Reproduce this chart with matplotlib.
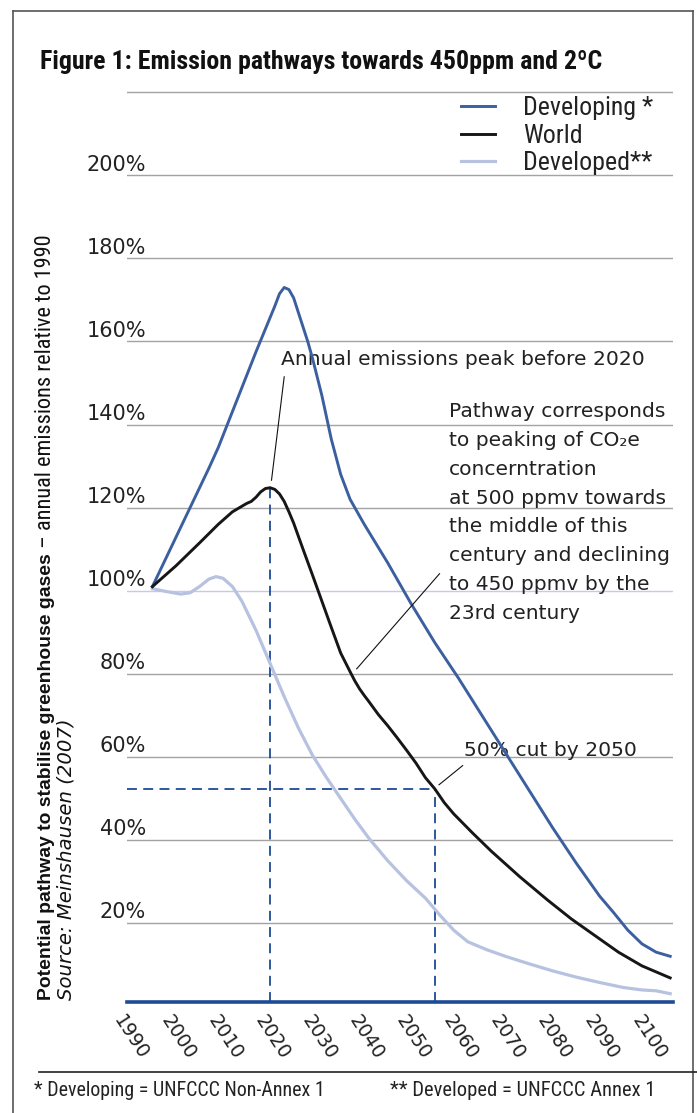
import numpy as np
import matplotlib.pyplot as plt
from matplotlib.lines import Line2D
from matplotlib import font_manager

# ---- data ----
developing_years = [1990, 1994, 1998, 2002, 2004, 2008, 2012, 2014, 2016, 2017, 2018, 2019, 2020,
                    2021, 2022, 2023, 2024, 2026, 2028, 2030, 2032, 2035, 2040, 2045, 2050, 2055,
                    2060, 2065, 2070, 2075, 2080, 2085, 2088, 2091, 2094, 2097, 2100]
developing_vals = [101, 110.5, 120, 129.5, 134.5, 146, 157.5, 163, 168.5, 171.5, 173, 172.5, 170.5,
                   167, 163.5, 160, 156, 147, 136.5, 128, 122, 116, 106.7, 96.8, 87.5, 79,
                   70, 61, 52, 43, 34.5, 26.5, 22.5, 18.3, 15, 13, 12]

world_years = [1990, 1995, 2000, 2004, 2007, 2010, 2011, 2012, 2013, 2014, 2015, 2016, 2017,
               2018, 2019, 2020, 2022, 2024, 2026, 2028, 2030, 2032, 2033, 2034, 2035, 2036,
               2038, 2040, 2042, 2044, 2046, 2048, 2050, 2052, 2054, 2058, 2062, 2068, 2074,
               2079, 2084, 2089, 2094, 2100]
world_vals = [101, 106, 111.5, 116, 119, 121, 121.5, 122.5, 123.8, 124.6, 124.8, 124.4, 123.3,
              121.5, 119, 116.3, 110, 103.8, 97.5, 91.2, 85, 80.5, 78.3, 76.4, 74.8, 73.3,
              70.2, 67.5, 64.6, 61.6, 58.5, 55, 52.3, 49, 46.3, 41.7, 37.3, 31.2, 25.5,
              21, 17, 13, 9.7, 6.8]

developed_years = [1990, 1993, 1996, 1998, 2000, 2002, 2003.5, 2005, 2007, 2009, 2012, 2015,
                   2018, 2021, 2024, 2027, 2030, 2033, 2036, 2040, 2044, 2048, 2051, 2054,
                   2057, 2061, 2065, 2070, 2075, 2080, 2085, 2090, 2094, 2097, 2100]
developed_vals = [100.5, 99.8, 99.2, 99.5, 101, 102.8, 103.4, 103, 101, 97.5, 90.5, 82.5,
                  74.5, 67, 60.4, 55, 50, 45, 40.4, 35, 30.2, 26, 22, 18.3,
                  15.5, 13.6, 12, 10.2, 8.5, 7, 5.7, 4.5, 3.9, 3.7, 3]

grid_vals = [20, 40, 60, 80, 100, 120, 140, 160, 180, 200, 220]
ytick_labels = ['20%', '40%', '60%', '80%', '100%', '120%', '140%', '160%', '180%', '200%']
xtick_years = [1990, 2000, 2010, 2020, 2030, 2040, 2050, 2060, 2070, 2080, 2090, 2100]
cut_year = 2050

# ---- style ----
C_DEV = '#3b5f9f'
C_WORLD = '#161616'
C_DVD = '#b7c2e1'
C_BASE = '#1d4b94'
C_TXT = '#222222'
ARIAL = ['Liberation Sans', 'DejaVu Sans']
WIDE = ['DejaVu Sans']

# pick a narrow face if one is installed
names = {f.name for f in font_manager.fontManager.ttflist}
NARROW = dict(family=ARIAL)
for cand in ['Liberation Sans Narrow', 'Roboto Condensed', 'Open Sans Condensed', 'Arial Narrow']:
    if cand in names:
        NARROW = dict(family=[cand, 'DejaVu Sans'])
        break

W, H = 697, 1113
fig = plt.figure(figsize=(W / 100, H / 100), dpi=100)
renderer = fig.canvas.get_renderer()


def fx(px):
    return px / W


def fy(py):
    return 1 - py / H


def fit(txt, width_px, **kw):
    # font size that makes txt about width_px wide
    t = fig.text(0, 0, txt, fontsize=20, **kw)
    w = t.get_window_extent(renderer).width
    t.remove()
    return 20 * width_px / w


ax = fig.add_axes([fx(127), fy(1002), fx(673) - fx(127), fy(91) - fy(1002)])
ax.set_xlim(1984.6, 2100.6)
ax.set_ylim(1.0, 220.3)

# gridlines
for v in grid_vals:
    col = '#c3cbe7' if v == 100 else '#a3a3a3'
    ax.axhline(v, color=col, lw=1.0, zorder=1)

# curves
l_dvd, = ax.plot(developed_years, developed_vals, color=C_DVD, lw=2.3, label='Developed**', zorder=3)
l_dev, = ax.plot(developing_years, developing_vals, color=C_DEV, lw=2.1, label='Developing *', zorder=4)
l_wld, = ax.plot(world_years, world_vals, color=C_WORLD, lw=2.1, label='World', zorder=5)

# dashed guides
peak_i = int(np.argmax(world_vals))
peak_year, peak_val = world_years[peak_i], world_vals[peak_i]
cut_val = float(np.interp(cut_year, world_years, world_vals))
dash = dict(color=C_BASE, lw=1.3, ls=(0, (5.5, 3.5)), zorder=2)
ax.plot([peak_year, peak_year], [1.0, peak_val], **dash)
ax.plot([cut_year, cut_year], [1.0, cut_val], **dash)
ax.plot([1984.6, cut_year], [cut_val, cut_val], **dash)

# axes styling
for s in ['top', 'right', 'left']:
    ax.spines[s].set_visible(False)
ax.spines['bottom'].set_color(C_BASE)
ax.spines['bottom'].set_linewidth(2.6)
ax.spines['bottom'].set_zorder(6)
ax.set_yticks([])
ax.set_xticks(xtick_years)
ax.set_xticklabels([str(y) for y in xtick_years])
ax.tick_params(axis='x', length=0, pad=7, labelsize=13.8, labelcolor=C_TXT)
for lab in ax.get_xticklabels():
    lab.set_rotation(-57)
    lab.set_ha('right')
    lab.set_va('top')
    lab.set_family(WIDE)

# y labels above gridlines
for v, t in zip(grid_vals, ytick_labels):
    ax.annotate(t, xy=(0.035, v), xycoords=('axes fraction', 'data'), xytext=(0, 0.5),
                textcoords='offset points', ha='right', va='bottom', fontsize=15,
                family=WIDE, color=C_TXT, annotation_clip=False)

# annotations
fs_ann = 14.6
line_kw = dict(color='#111111', lw=0.8, zorder=7)
ax.plot([2015.3, 2018.0], [126.6, 151.5], **line_kw)
ax.text(2017.4, 155.7, 'Annual emissions peak before 2020', fontsize=fs_ann, family=WIDE,
        color=C_TXT, va='center', ha='left')
ax.plot([2033.4, 2051.0], [81.2, 104.1], **line_kw)
ax.text(2052.95, 145.4, 'Pathway corresponds\nto peaking of CO\u2082e\nconcerntration\n'
        'at 500 ppmv towards\nthe middle of this\ncentury and declining\n'
        'to 450 ppmv by the\n23rd century', fontsize=fs_ann, family=WIDE, color=C_TXT,
        va='top', ha='left', linespacing=1.655)
ax.plot([2050.9, 2055.9], [53.3, 57.9], **line_kw)
ax.text(2056.3, 61.5, '50% cut by 2050', fontsize=fs_ann, family=WIDE, color=C_TXT,
        va='center', ha='left')

# legend
fs_leg = fit('Developing *', 130, **NARROW)
leg_prop = dict(NARROW)
leg_prop['size'] = fs_leg
ax.legend(handles=[l_dev, l_wld, l_dvd], loc='upper left', bbox_to_anchor=(fx(461), fy(96)),
          bbox_transform=fig.transFigure, frameon=False, prop=leg_prop,
          handlelength=34 / (fs_leg * 100 / 72), handletextpad=28 / (fs_leg * 100 / 72),
          labelspacing=0.14, borderpad=0, borderaxespad=0, labelcolor=C_TXT)

# title
title = 'Figure 1: Emission pathways towards 450ppm and 2\u00baC'
fig.text(fx(40), fy(62), title, weight='bold', color='#111111', va='center',
         fontsize=fit(title, 561, weight='bold', **NARROW), **NARROW)

# y axis title made of pieces


def chain(x, y0, parts):
    y = y0
    for txt, kw in parts:
        t = fig.text(fx(x), fy(y), txt, rotation=90, rotation_mode='anchor',
                     ha='left', va='baseline', color='#111111', **kw)
        y -= t.get_window_extent(renderer).height


part1 = 'Potential pathway to stabilise greenhouse gases'
part2 = ' \u2013 annual emissions relative to 1990'
chain(51, 1000, [(part1, dict(family=ARIAL, weight='bold', fontsize=fit(part1, 445, family=ARIAL, weight='bold'))),
                 (part2, dict(fontsize=fit(part2, 318, **NARROW), **NARROW))])
src = 'Source: Meinshausen (2007)'
chain(71, 1000, [(src, dict(family=WIDE, style='italic', fontsize=fit(src, 282, family=WIDE, style='italic')))])

# frame and footer
fr = dict(color='#555555', lw=1.2, transform=fig.transFigure)
fig.add_artist(Line2D([fx(13), fx(13)], [fy(11), 0], **fr))
fig.add_artist(Line2D([fx(13), fx(693)], [fy(11), fy(11)], **fr))
fig.add_artist(Line2D([fx(693), fx(693)], [fy(11), 0], **fr))
fig.add_artist(Line2D([fx(39), 1], [fy(1072), fy(1072)], color='#222222', lw=1.2,
                      transform=fig.transFigure))
foot1 = '* Developing = UNFCCC Non-Annex 1'
foot2 = '** Developed = UNFCCC Annex 1'
fig.text(fx(34), fy(1091), foot1, fontsize=fit(foot1, 291, **NARROW), color=C_TXT, va='center', **NARROW)
fig.text(fx(390), fy(1091), foot2, fontsize=fit(foot2, 265, **NARROW), color=C_TXT, va='center', **NARROW)

fig.savefig('out.png', dpi=100)
